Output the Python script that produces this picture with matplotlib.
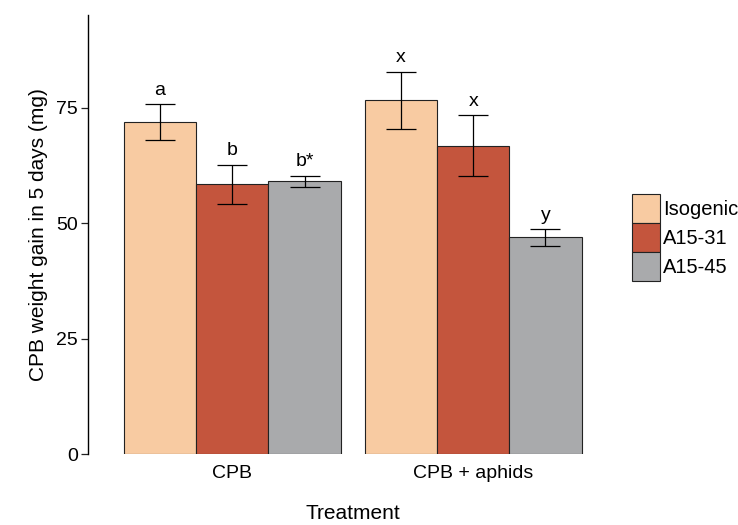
import matplotlib
matplotlib.use("Agg")
import matplotlib.pyplot as plt
import numpy as np

plt.rcParams.update({
    "font.family": ["Liberation Sans", "DejaVu Sans"],
    "font.size": 13,
})

treatments = ["CPB", "CPB + aphids"]
lines = ["Isogenic", "A15-31", "A15-45"]
means = {
    "Isogenic": [71.8, 76.6],
    "A15-31": [58.4, 66.7],
    "A15-45": [59.1, 46.9],
}
errs = {
    "Isogenic": [3.9, 6.2],
    "A15-31": [4.2, 6.6],
    "A15-45": [1.2, 1.8],
}
letters = {
    "Isogenic": ["a", "x"],
    "A15-31": ["b", "x"],
    "A15-45": ["b*", "y"],
}
colors = {"Isogenic": "#F8CBA2", "A15-31": "#C4553D", "A15-45": "#A9AAAC"}

fig = plt.figure(figsize=(7.38, 5.25), dpi=100)
ax = fig.add_axes([0.119, 0.135, 0.718, 0.836])

x = np.arange(1, len(treatments) + 1)
w = 0.3
for j, name in enumerate(lines):
    pos = x + (j - 1) * w
    ax.bar(pos, means[name], w, color=colors[name], edgecolor="#222222",
           linewidth=0.8, label=name, zorder=2)
    ax.errorbar(pos, means[name], yerr=errs[name], fmt="none", ecolor="black",
                elinewidth=0.9, capsize=11, capthick=0.9, zorder=3)
    for p, m, e, t in zip(pos, means[name], errs[name], letters[name]):
        ax.text(p, m + e + 1.2, t, ha="center", va="bottom", fontsize=14)

ax.set_xlim(0.4, 2.6)
ax.set_ylim(0, 95)
ax.set_yticks([0, 25, 50, 75])
ax.set_xticks(x)
ax.set_xticklabels(treatments)
ax.tick_params(axis="x", length=0, pad=8, labelsize=14)
ax.tick_params(axis="y", length=5, width=0.9, labelsize=14, pad=2, color="#222222")
for s in ["top", "right", "bottom"]:
    ax.spines[s].set_visible(False)
ax.spines["left"].set_linewidth(1.0)
ax.set_ylabel("CPB weight gain in 5 days (mg)", fontsize=15, labelpad=6)
ax.set_xlabel("Treatment", fontsize=15, labelpad=16)

ax.legend(loc="upper left", bbox_to_anchor=(632 / 738, 1 - 194 / 525),
          bbox_transform=fig.transFigure, frameon=False, fontsize=14.5,
          handlelength=1.4, handleheight=1.85, labelspacing=0.0,
          handletextpad=0.15, borderpad=0, borderaxespad=0)

fig.savefig("out.png", dpi=100)
